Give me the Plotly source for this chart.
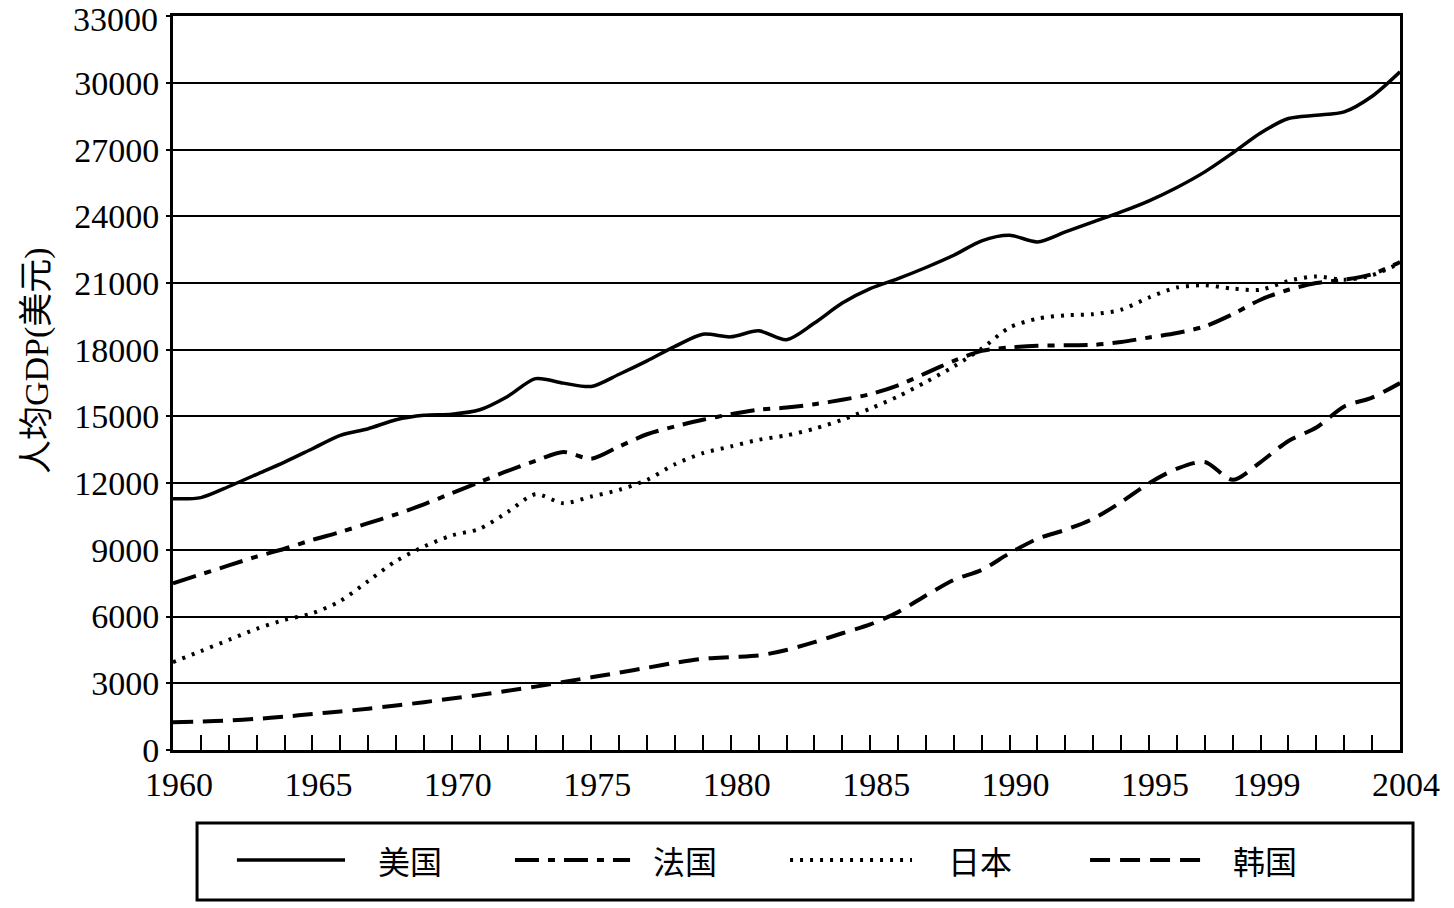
import plotly.graph_objects as go

years = list(range(1960, 2005))

usa = [11300, 11350, 11850, 12400, 12950, 13550, 14150, 14450, 14850, 15050,
       15100, 15300, 15900, 16700, 16500, 16350, 16900, 17500, 18150, 18700,
       18580, 18850, 18450, 19200, 20100, 20750, 21200, 21700, 22250, 22900,
       23150, 22850, 23300, 23750, 24200, 24700, 25300, 26000, 26850, 27750,
       28400, 28550, 28700, 29400, 30500]

france = [7500, 7900, 8300, 8700, 9050, 9450, 9800, 10200, 10600, 11050,
          11550, 12050, 12550, 13000, 13400, 13100, 13650, 14200, 14550, 14850,
          15100, 15300, 15400, 15550, 15750, 16000, 16400, 16950, 17500, 17950,
          18100, 18180, 18200, 18220, 18350, 18550, 18750, 19050, 19600, 20250,
          20700, 21000, 21150, 21400, 21950]

japan = [3950, 4450, 4950, 5450, 5850, 6150, 6700, 7600, 8500, 9150,
         9650, 9950, 10700, 11500, 11100, 11400, 11700, 12150, 12850, 13350,
         13650, 13950, 14150, 14450, 14850, 15350, 15900, 16550, 17250, 18050,
         19000, 19400, 19550, 19600, 19800, 20350, 20800, 20900, 20750, 20700,
         21100, 21300, 21150, 21350, 21900]

korea = [1250, 1280, 1330, 1400, 1500, 1620, 1730, 1860, 2000, 2150,
         2320, 2480, 2660, 2850, 3060, 3270, 3480, 3700, 3920, 4100,
         4180, 4250, 4500, 4850, 5250, 5650, 6200, 6950, 7650, 8100,
         8850, 9500, 9900, 10400, 11150, 12000, 12650, 12950, 12150, 12950,
         13900, 14500, 15450, 15850, 16500]

series_names = ["美国", "法国", "日本", "韩国"]
x_tick_years = [1960, 1965, 1970, 1975, 1980, 1985, 1990, 1995, 1999, 2004]
y_tick_vals = [0, 3000, 6000, 9000, 12000, 15000, 18000, 21000, 24000, 27000, 30000, 33000]
y_title = "人均GDP(美元)"

styles = [
    dict(color="black", width=3.5, dash="solid"),
    dict(color="black", width=4, dash="24px,9px,7px,9px"),
    dict(color="black", width=4, dash="3px,7px"),
    dict(color="black", width=4, dash="20px,10px"),
]

fig = go.Figure()
for name, vals, st in zip(series_names, [usa, france, japan, korea], styles):
    fig.add_trace(go.Scatter(x=years, y=vals, mode="lines", name=name,
                             line=dict(shape="spline", smoothing=0.8, **st),
                             showlegend=False))

serif = "Liberation Serif, Times New Roman, serif"
cjk = "Noto Sans CJK SC"

fig.update_layout(
    width=1454, height=908,
    margin=dict(l=173, r=54, t=16, b=158),
    paper_bgcolor="white", plot_bgcolor="white",
    font=dict(family=serif, color="black", size=34),
    xaxis=dict(
        range=[1960, 2004],
        tickvals=x_tick_years,
        ticktext=[str(v) for v in x_tick_years],
        ticks="inside", ticklen=15, tickwidth=2, tickcolor="black",
        minor=dict(dtick=1, tick0=1960, ticks="inside", ticklen=15,
                   tickwidth=2, tickcolor="black", showgrid=False),
        showgrid=False, zeroline=False,
        showline=True, linecolor="black", linewidth=3, mirror=True,
        tickfont=dict(family=serif, size=34),
        ticklabelstandoff=2,
        ticklabelshift=6,
    ),
    yaxis=dict(
        range=[0, 33010],
        tickvals=y_tick_vals,
        ticktext=[str(v) for v in y_tick_vals],
        ticks="outside", ticklen=4, tickwidth=2, tickcolor="black",
        showgrid=True, gridcolor="black", gridwidth=2,
        zeroline=False,
        showline=True, linecolor="black", linewidth=3, mirror=True,
        tickfont=dict(family=serif, size=34),
    ),
)

# top tick label (plotly hides it at the very edge of the page)
fig.add_annotation(xref="paper", yref="y", x=0, y=y_tick_vals[-1],
                   text=str(y_tick_vals[-1]), showarrow=False,
                   xanchor="right", yanchor="top", xshift=-14, yshift=16,
                   borderpad=0,
                   font=dict(family=serif, size=34, color="black"))

# y-axis title
fig.add_annotation(xref="paper", yref="paper", x=-0.111, y=0.531,
                   text=y_title, textangle=-90, showarrow=False,
                   xanchor="center", yanchor="middle",
                   font=dict(family="Liberation Serif, Noto Sans CJK SC", size=34,
                             color="black"))

# custom legend box (decoration)
legend_y = -0.1499
fig.add_shape(type="rect", xref="paper", yref="paper",
              x0=0.0196, x1=1.0106, y0=-0.2044, y1=-0.0995,
              line=dict(color="black", width=3), fillcolor="white")
legend_pos = [(0.0521, 0.1402, 0.1932), (0.2787, 0.3725, 0.4173),
              (0.5029, 0.6023, 0.6577), (0.7474, 0.8411, 0.8900)]
for name, st, (a, b, t) in zip(series_names, styles, legend_pos):
    fig.add_shape(type="line", xref="paper", yref="paper",
                  x0=a, x1=b, y0=legend_y, y1=legend_y,
                  line=dict(color="black", width=st["width"], dash=st["dash"]))
    fig.add_annotation(xref="paper", yref="paper", x=t, y=legend_y,
                       text=name, showarrow=False,
                       font=dict(family=cjk, size=32, color="black"),
                       xanchor="center", yanchor="middle")

fig.write_html("out.html")
